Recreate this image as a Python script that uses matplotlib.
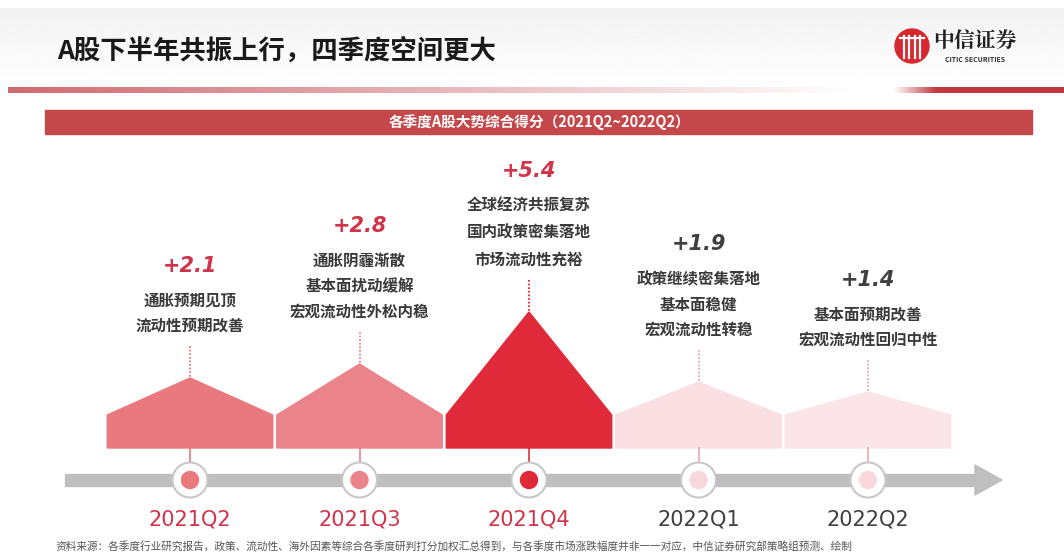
import matplotlib.pyplot as plt
import numpy as np
from matplotlib.patches import Polygon, Circle, Rectangle

plt.rcParams['font.family'] = ['Noto Sans CJK SC', 'DejaVu Sans']

# data
quarters = ["2021Q2", "2021Q3", "2021Q4", "2022Q1", "2022Q2"]
scores = [2.1, 2.8, 5.4, 1.9, 1.4]
notes = [
    ["通胀预期见顶", "流动性预期改善"],
    ["通胀阴霾渐散", "基本面扰动缓解", "宏观流动性外松内稳"],
    ["全球经济共振复苏", "国内政策密集落地", "市场流动性充裕"],
    ["政策继续密集落地", "基本面稳健", "宏观流动性转稳"],
    ["基本面预期改善", "宏观流动性回归中性"],
]
fill_colors = ["#e9787f", "#eb848a", "#e02a3a", "#fae0e3", "#fbe4e7"]
label_colors = ["#d0344a", "#d0344a", "#d0344a", "#404040", "#404040"]

title = "A股下半年共振上行，四季度空间更大"
banner = "各季度A股大势综合得分（2021Q2~2022Q2）"
source = ("资料来源：各季度行业研究报告，政策、流动性、海外因素等综合各季度研判打分加权汇总得到，"
          "与各季度市场涨跌幅度并非一一对应，中信证券研究部策略组预测、绘制")

W, H = 1064, 554
fig = plt.figure(figsize=(W / 100, H / 100), dpi=100)
ax = fig.add_axes([0, 0, 1, 1])
ax.set_xlim(0, W)
ax.set_ylim(H, 0)
ax.axis("off")

# header background
grad = np.linspace(0.95, 1.0, 100).reshape(-1, 1)
ax.imshow(grad, cmap="gray", vmin=0, vmax=1, extent=(0, W, 88, 8), aspect="auto", zorder=0)
# header underline gradient: red -> white -> red
xs = np.linspace(0, 1, 400)
alpha = np.clip(1 - xs / 0.8, 0, 1) * 0.75
alpha[xs > 0.84] = np.clip((xs[xs > 0.84] - 0.84) / 0.04, 0, 1)
line_rgba = np.zeros((1, 400, 4))
line_rgba[..., 0] = 0.75
line_rgba[..., 1] = 0.22
line_rgba[..., 2] = 0.25
line_rgba[..., 3] = alpha
ax.imshow(line_rgba, extent=(8, W, 93, 87), aspect="auto", zorder=1)

ax.text(57, 51, title, fontsize=19, fontweight="bold", color="#1a1a1a",
        va="center", ha="left")

# logo
ax.add_patch(Circle((912, 46), 17, color="#d7282f", zorder=3))
for dx in (-8, -3, 3, 8):
    ax.plot([912 + dx, 912 + dx], [36, 58], color="white", lw=1.6, zorder=4)
ax.plot([900, 924], [38, 38], color="white", lw=1.6, zorder=4)
ax.text(975, 41, "中信证券", fontsize=15, fontweight="bold", color="#222222",
        ha="center", va="center", family=["Noto Serif CJK SC", "Noto Sans CJK SC"])
ax.text(975, 60, "CITIC SECURITIES", fontsize=5, fontweight="bold", color="#333333",
        ha="center", va="center")

# banner
ax.add_patch(Rectangle((45, 110), 987, 24, color="#c4474a", zorder=2))
ax.text(540, 122, banner, fontsize=10.5, color="white", ha="center", va="center",
        fontweight="bold", zorder=3)

# pentagons
x0, step = 190, 169.5
base_y, shoulder_y = 448, 415
half = (step - 4) / 2
centers = [x0 + i * step for i in range(len(quarters))]
for i, (cx, s) in enumerate(zip(centers, scores)):
    peak = base_y - (28 + 20 * s)
    pts = [(cx - half, base_y), (cx - half, shoulder_y), (cx, peak),
           (cx + half, shoulder_y), (cx + half, base_y)]
    ax.add_patch(Polygon(pts, closed=True, color=fill_colors[i], zorder=2))
    dot_col = fill_colors[i] if i < 3 else "#e8a8b0"
    ax.plot([cx, cx], [peak - 32, peak], color=dot_col, lw=1.3, ls=(0, (1, 1)), zorder=2)
    # connector to timeline
    ax.plot([cx, cx], [base_y, 466], color=dot_col, lw=1.2, zorder=2)

    # texts
    lines = notes[i]
    last_y = peak - 52
    gap = 27 if i == 2 else 25.5
    ys = [last_y - gap * (len(lines) - 1 - k) for k in range(len(lines))]
    for ly, t in zip(ys, lines):
        ax.text(cx, ly, t, fontsize=11.2, color="#3a3a3a", ha="center", va="center",
                fontweight="bold")
    ax.text(cx, ys[0] - 35, f"+{s:.1f}", fontsize=15, fontweight="bold",
            fontstyle="italic", color=label_colors[i], ha="center", va="center",
            family="DejaVu Sans")

# timeline arrow
ax.add_patch(Rectangle((65, 474), 915, 12, color="#bfbfbf", zorder=2))
ax.add_patch(Polygon([(975, 465), (1002, 480), (975, 495)], closed=True,
                     color="#bfbfbf", zorder=2))
for i, cx in enumerate(centers):
    ax.add_patch(Circle((cx, 480), 17.5, facecolor="white", edgecolor="#c8c8c8",
                        lw=1.5, zorder=3))
    inner = fill_colors[i] if i < 3 else "#f8d8dc"
    ax.add_patch(Circle((cx, 480), 8.5, color=inner, zorder=4))
    ax.text(cx, 520, quarters[i], fontsize=15, color=label_colors[i],
            ha="center", va="center", family="DejaVu Sans")

ax.text(55, 546, source, fontsize=7.7, color="#555555", ha="left", va="center")

fig.savefig("out.png", dpi=100, facecolor="white")
